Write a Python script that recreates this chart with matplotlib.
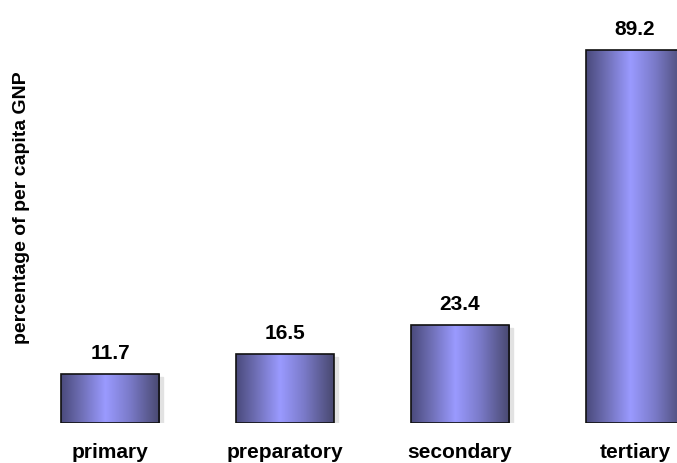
import numpy as np
import matplotlib
matplotlib.use('Agg')
import matplotlib.pyplot as plt
from matplotlib.colors import LinearSegmentedColormap
from matplotlib.patches import Rectangle

categories = ['primary', 'preparatory', 'secondary', 'tertiary']
values = [11.7, 16.5, 23.4, 89.2]

plt.rcParams['font.family'] = ['Liberation Sans', 'DejaVu Sans']

fig = plt.figure(figsize=(6.77, 4.64), dpi=100)
ax = fig.add_axes([0, 40 / 464, 1, 424 / 464])

# dark edges, light centre
cmap = LinearSegmentedColormap.from_list('bar', [
    (0.00, '#4a4a7c'),
    (0.20, '#6e6eb4'),
    (0.45, '#9a9aff'),
    (0.70, '#7a7ac8'),
    (1.00, '#48486f'),
])
grad = np.linspace(0, 1, 256).reshape(1, -1)

width = 98 / 175
for i, v in enumerate(values):
    x0 = i - width / 2
    # soft shadow
    ax.add_patch(Rectangle((x0 + 0.02, -0.6), width, v, color='#e2e2e2', zorder=1))
    ax.imshow(grad, cmap=cmap, aspect='auto', extent=(x0, x0 + width, 0, v),
              zorder=2, interpolation='bilinear')
    ax.add_patch(Rectangle((x0, 0), width, v, fill=False, edgecolor='#111111',
                           linewidth=1.2, zorder=3))
    ax.text(i, v + 3.8, f'{v:.1f}', ha='center', va='baseline',
            fontsize=15, fontweight='bold', color='black')

ax.set_xlim(-110 / 175, (677 - 110) / 175)
ax.set_ylim(0, 424 / 4.18)
ax.axis('off')

for i, c in enumerate(categories):
    fig.text((110 + 175 * i) / 677, 1 - 458 / 464, c, ha='center', va='baseline',
             fontsize=15, fontweight='bold')

fig.text(22 / 677, 1 - 208 / 464, 'percentage of per capita GNP', rotation=90,
         ha='center', va='center', fontsize=14, fontweight='bold')

fig.savefig('out.png', dpi=100)
